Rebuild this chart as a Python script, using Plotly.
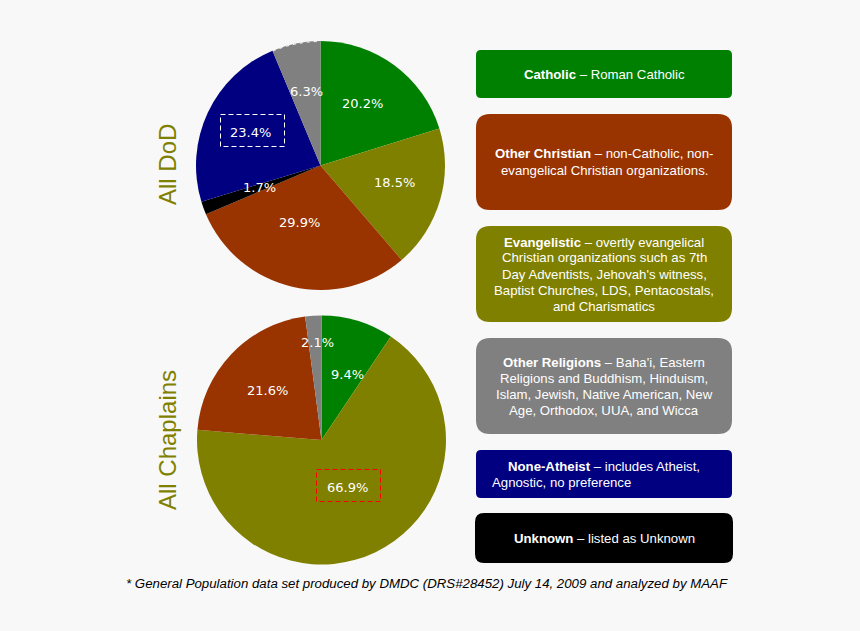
import plotly.graph_objects as go

W, H = 860, 631
BG = "#f8f8f8"
COLORS = {
    "Catholic": "#008000",
    "Evangelistic": "#808000",
    "Other Christian": "#993300",
    "Unknown": "#000000",
    "None-Atheist": "#000080",
    "Other Religions": "#808080",
}

# share of each group, clockwise from 12 o'clock
dod = {"Catholic": 20.2, "Evangelistic": 18.5, "Other Christian": 29.9,
       "Unknown": 1.7, "None-Atheist": 23.4, "Other Religions": 6.3}
chaplains = {"Catholic": 9.4, "Evangelistic": 66.9, "Other Christian": 21.6,
             "Other Religions": 2.1}

# pie label positions on the page
dod_labels = {"Catholic": (362, 103), "Evangelistic": (394, 183), "Other Christian": (299, 223),
              "Unknown": (259, 188), "None-Atheist": (250, 132), "Other Religions": (306, 92)}
chaplain_labels = {"Catholic": (347, 374), "Evangelistic": (347, 487), "Other Christian": (267, 390),
                   "Other Religions": (317, 342)}

# key cards: x0, x1, y0, y1, corner radius, colour, lines of (x, y, text)
cards = [
    (476, 732, 50, 98, 5, "Catholic", [
        (604, 74, "<b>Catholic</b> – Roman Catholic")]),
    (476, 732, 114, 210, 14, "Other Christian", [
        (604, 154, "<b>Other Christian</b> – non-Catholic, non-"),
        (604, 170, "evangelical Christian organizations.")]),
    (476, 732, 226, 322, 14, "Evangelistic", [
        (604, 242, "<b>Evangelistic</b> – overtly evangelical"),
        (604, 258, "Christian organizations such as 7th"),
        (604, 274, "Day Adventists, Jehovah's witness,"),
        (604, 290, "Baptist Churches, LDS, Pentacostals,"),
        (604, 306, "and Charismatics")]),
    (476, 732, 338, 434, 14, "Other Religions", [
        (604, 362, "<b>Other Religions</b> – Baha'i, Eastern"),
        (604, 378, "Religions and Buddhism, Hinduism,"),
        (604, 394, "Islam, Jewish, Native American, New"),
        (604, 410, "Age, Orthodox, UUA, and Wicca")]),
    (476, 732, 450, 498, 5, "None-Atheist", [
        (604, 466, "<b>None-Atheist</b> – includes Atheist,"),
        (561, 482, "Agnostic, no preference")]),
    (475, 733, 513, 563, 9, "Unknown", [
        (604, 538, "<b>Unknown</b> – listed as Unknown")]),
]


def px(x):
    return x / W


def py(y):
    return 1 - y / H


def rounded(x0, x1, y0, y1, r):
    rx, ry = r / W, r / H
    a, b, c, d = px(x0), px(x1), py(y0), py(y1)
    return (f"M {a + rx} {c} L {b - rx} {c} Q {b} {c} {b} {c - ry} "
            f"L {b} {d + ry} Q {b} {d} {b - rx} {d} "
            f"L {a + rx} {d} Q {a} {d} {a} {d + ry} "
            f"L {a} {c - ry} Q {a} {c} {a + rx} {c} Z")


def add_pie(fig, data, left, right, top, bottom):
    fig.add_trace(go.Pie(labels=list(data), values=list(data.values()),
                         marker=dict(colors=[COLORS[k] for k in data], line=dict(width=0)),
                         sort=False, direction="clockwise", rotation=0,
                         textinfo="none", hoverinfo="label+percent", showlegend=False,
                         domain=dict(x=[px(left), px(right)], y=[py(bottom), py(top)])))


def note(x, y, text, size, color="white", family="Liberation Sans", **kw):
    return dict(x=px(x), y=py(y), xref="paper", yref="paper", text=text, showarrow=False,
                xanchor="center", yanchor="middle",
                font=dict(family=family, size=size, color=color), **kw)


fig = go.Figure()
add_pie(fig, dod, 196, 445, 41, 290)
add_pie(fig, chaplains, 197, 446, 315, 565)

shapes = []
annotations = []

for x0, x1, y0, y1, r, name, lines in cards:
    shapes.append(dict(type="path", xref="paper", yref="paper", path=rounded(x0, x1, y0, y1, r),
                       fillcolor=COLORS[name], line=dict(width=0), layer="below"))
    for x, y, text in lines:
        annotations.append(note(x, y, text, 13.2))

for labels, data in ((dod_labels, dod), (chaplain_labels, chaplains)):
    for name, (x, y) in labels.items():
        annotations.append(note(x, y, f"{data[name]}%", 13, family="DejaVu Sans"))

# dashed call-outs around the largest shifts
for x0, x1, y0, y1, col in ((220.5, 284.5, 114.5, 146.5, "white"), (316.5, 380.5, 469.5, 501.5, "#ff0000")):
    shapes.append(dict(type="rect", xref="paper", yref="paper",
                       x0=px(x0), x1=px(x1), y0=py(y0), y1=py(y1),
                       line=dict(color=col, width=1, dash="5px,3px")))

# broken white edge along the top of the grey slice
shapes.append(dict(type="path", xref="paper", yref="paper",
                   path=f"M {px(273)} {py(51)} Q {px(296)} {py(41.5)} {px(320)} {py(41.5)}",
                   line=dict(color="white", width=1, dash="3px,4px")))

annotations.append(note(167, 165, "All DoD", 24, color="#808000", textangle=-90))
annotations.append(note(167, 440, "All Chaplains", 24, color="#808000", textangle=-90))
annotations.append(note(427, 583, "<i>* General Population data set produced by DMDC (DRS#28452) July 14, 2009 and analyzed by MAAF</i>",
                        13.25, color="black"))

fig.update_layout(width=W, height=H, margin=dict(l=0, r=0, t=0, b=0),
                  paper_bgcolor=BG, plot_bgcolor=BG,
                  shapes=shapes, annotations=annotations)

fig.write_html("out.html", config=dict(displayModeBar=False),
               post_script="document.body.style.margin='0';document.body.style.background='#f8f8f8';")
